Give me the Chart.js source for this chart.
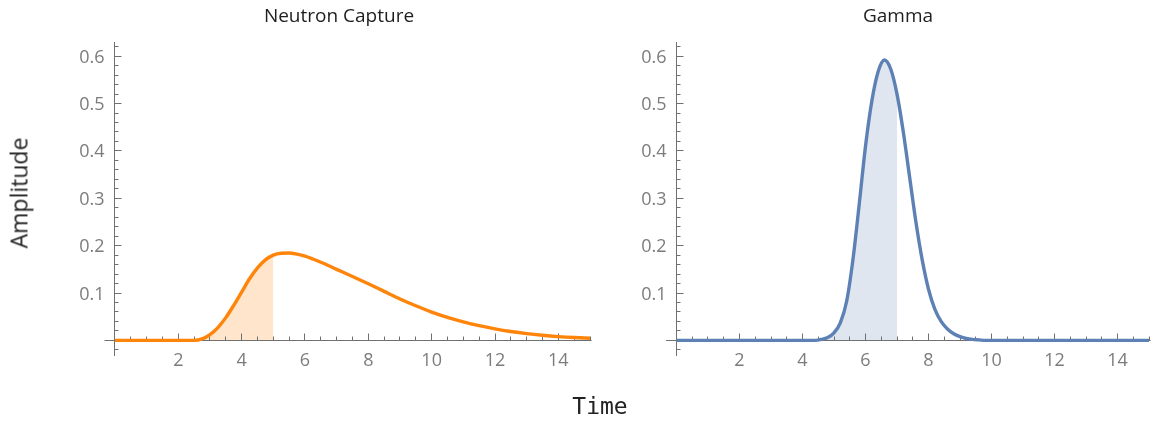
<!DOCTYPE html>
<html>
<head>
<meta charset="utf-8">
<script src="https://cdn.jsdelivr.net/npm/chart.js@4.4.1/dist/chart.umd.min.js"></script>
<style>
  body { margin: 0; background: #fff; }
  #page { position: relative; width: 1153px; height: 421px; overflow: hidden; font-family: "Open Sans", sans-serif; }
  .box { position: absolute; top: 0; height: 421px; }
  #leftBox { left: 0; width: 600px; }
  #rightBox { left: 600px; width: 553px; }
  .title { position: absolute; font-size: 19px; line-height: 19px; color: #1e1e1e; transform: translateX(-50%); white-space: nowrap; }
  #ylabel { position: absolute; left: 19px; top: 193px; font-size: 23px; line-height: 23px; color: #222;
            transform: translate(-50%, -50%) rotate(-90deg); white-space: nowrap; }
  #xlabel { position: absolute; left: 600px; top: 395px; font-family: "DejaVu Sans Mono", monospace; font-size: 23px;
            line-height: 23px; color: #222; transform: translateX(-50%); }
</style>
</head>
<body>
<div id="page">
  <div class="box" id="leftBox"><canvas id="neutronChart"></canvas></div>
  <div class="box" id="rightBox"><canvas id="gammaChart"></canvas></div>
  <div class="title" style="left:339px; top:6px;">Neutron Capture</div>
  <div class="title" style="left:898px; top:6px;">Gamma</div>
  <div id="ylabel">Amplitude</div>
  <div id="xlabel">Time</div>
</div>
<script>
// values
const neutronX = [0, 1, 2, 2.5, 2.75, 3, 3.25, 3.5, 3.75, 4, 4.25, 4.5, 4.75, 5, 5.25, 5.5, 5.75, 6, 6.25, 6.5, 6.75, 7,
    7.5, 8, 8.5, 9, 9.5, 10, 10.5, 11, 11.5, 12, 12.5, 13, 13.5, 14, 14.5, 15];
const neutronY = [0, 0, 0, 0, 0.003, 0.012, 0.027, 0.048, 0.074, 0.102, 0.130, 0.153, 0.170, 0.180, 0.184, 0.1845, 0.182, 0.178, 0.1718, 0.165, 0.1577, 0.150,
    0.135, 0.1195, 0.1035, 0.0875, 0.073, 0.0598, 0.0485, 0.039, 0.031, 0.0243, 0.0187, 0.0142, 0.0107, 0.008, 0.006, 0.0045];
const neutronFillEnd = 5;

const gammaX = [0, 1, 2, 3, 4, 4.4, 4.6, 4.8, 5, 5.2, 5.4, 5.6, 5.8, 6, 6.2, 6.4, 6.6, 6.8, 7, 7.2, 7.4, 7.6, 7.8, 8,
    8.2, 8.4, 8.6, 8.8, 9, 9.2, 9.4, 9.6, 9.8, 11, 12, 13, 14, 15];
const gammaY = [0, 0, 0, 0, 0, 0, 0.002, 0.006, 0.016, 0.037, 0.082, 0.17, 0.287, 0.41, 0.505, 0.567, 0.592, 0.573, 0.52, 0.44, 0.345, 0.25, 0.17, 0.108,
    0.066, 0.04, 0.024, 0.014, 0.008, 0.004, 0.002, 0.001, 0, 0, 0, 0, 0, 0];
const gammaFillEnd = 7;

const xTickLabels = [2, 4, 6, 8, 10, 12, 14];
const yTickLabels = [0.1, 0.2, 0.3, 0.4, 0.5, 0.6];

const AXIS = '#707070';
const LABEL = '#7c7c7c';

// Mathematica style axes crossing at the origin, ticks pointing inwards
const mmaAxes = {
    id: 'mmaAxes',
    afterDatasetDraw(chart, args) {
        if (args.index !== 0) return;
        const ctx = chart.ctx, area = chart.chartArea;
        const xs = chart.scales.x, ys = chart.scales.y;
        const x0 = Math.floor(xs.getPixelForValue(0)) + 0.5;
        const y0 = Math.floor(ys.getPixelForValue(0)) + 0.5;
        ctx.save();
        ctx.strokeStyle = AXIS;
        ctx.lineWidth = 1;
        ctx.beginPath();
        ctx.moveTo(area.left, y0); ctx.lineTo(area.right, y0);
        ctx.moveTo(x0, area.top); ctx.lineTo(x0, area.bottom);
        // x ticks every 0.5
        for (let i = 1; i <= 30; i++) {
            const v = i / 2;
            const px = Math.floor(xs.getPixelForValue(v)) + 0.5;
            const len = xTickLabels.includes(v) ? 7 : 4;
            ctx.moveTo(px, y0); ctx.lineTo(px, y0 - len);
        }
        // y ticks every 0.02
        for (let i = -1; i <= 31; i++) {
            if (i === 0) continue;
            const v = i / 50;
            const py = Math.floor(ys.getPixelForValue(v)) + 0.5;
            const len = i % 5 === 0 ? 7 : 4;
            ctx.moveTo(x0, py); ctx.lineTo(x0 + len, py);
        }
        ctx.stroke();

        ctx.fillStyle = LABEL;
        ctx.font = '18px "Open Sans"';
        ctx.textAlign = 'center';
        ctx.textBaseline = 'alphabetic';
        xTickLabels.forEach(v => {
            ctx.fillText(String(v), xs.getPixelForValue(v), y0 + 25);
        });
        ctx.textAlign = 'right';
        yTickLabels.forEach(v => {
            ctx.fillText(v.toFixed(1), x0 - 10, ys.getPixelForValue(v) + 6.5);
        });
        ctx.restore();
    }
};

function makeChart(id, xv, yv, fillEnd, line, fill, pad) {
    const pts = xv.map((x, i) => ({ x: x, y: yv[i] }));
    const fillPts = pts.filter(p => p.x <= fillEnd);
    return new Chart(document.getElementById(id), {
        type: 'line',
        data: {
            datasets: [
                {
                    data: fillPts,
                    borderWidth: 0,
                    pointRadius: 0,
                    backgroundColor: fill,
                    fill: 'origin',
                    cubicInterpolationMode: 'monotone',
                    order: 2
                },
                {
                    data: pts,
                    borderColor: line,
                    borderWidth: 3.4,
                    pointRadius: 0,
                    fill: false,
                    cubicInterpolationMode: 'monotone',
                    order: 1
                }
            ]
        },
        options: {
            responsive: false,
            animation: false,
            events: [],
            layout: { padding: pad },
            plugins: { legend: { display: false }, tooltip: { enabled: false } },
            scales: {
                x: { type: 'linear', display: false, min: -0.33, max: 15.05 },
                y: { type: 'linear', display: false, min: -0.033, max: 0.63 }
            }
        },
        plugins: [mmaAxes]
    });
}

function sizeCanvas(id, w) {
    const c = document.getElementById(id);
    c.width = w; c.height = 421;
    c.style.width = w + 'px'; c.style.height = '421px';
}
sizeCanvas('neutronChart', 600);
sizeCanvas('gammaChart', 553);

makeChart('neutronChart', neutronX, neutronY, neutronFillEnd,
    'rgb(255, 132, 10)', 'rgb(255, 229, 204)',
    { left: 104.5, right: 8.4, top: 42, bottom: 65 });
makeChart('gammaChart', gammaX, gammaY, gammaFillEnd,
    'rgb(94, 129, 181)', 'rgb(223, 230, 240)',
    { left: 66.1, right: 2.4, top: 42, bottom: 65 });
</script>
</body>
</html>
